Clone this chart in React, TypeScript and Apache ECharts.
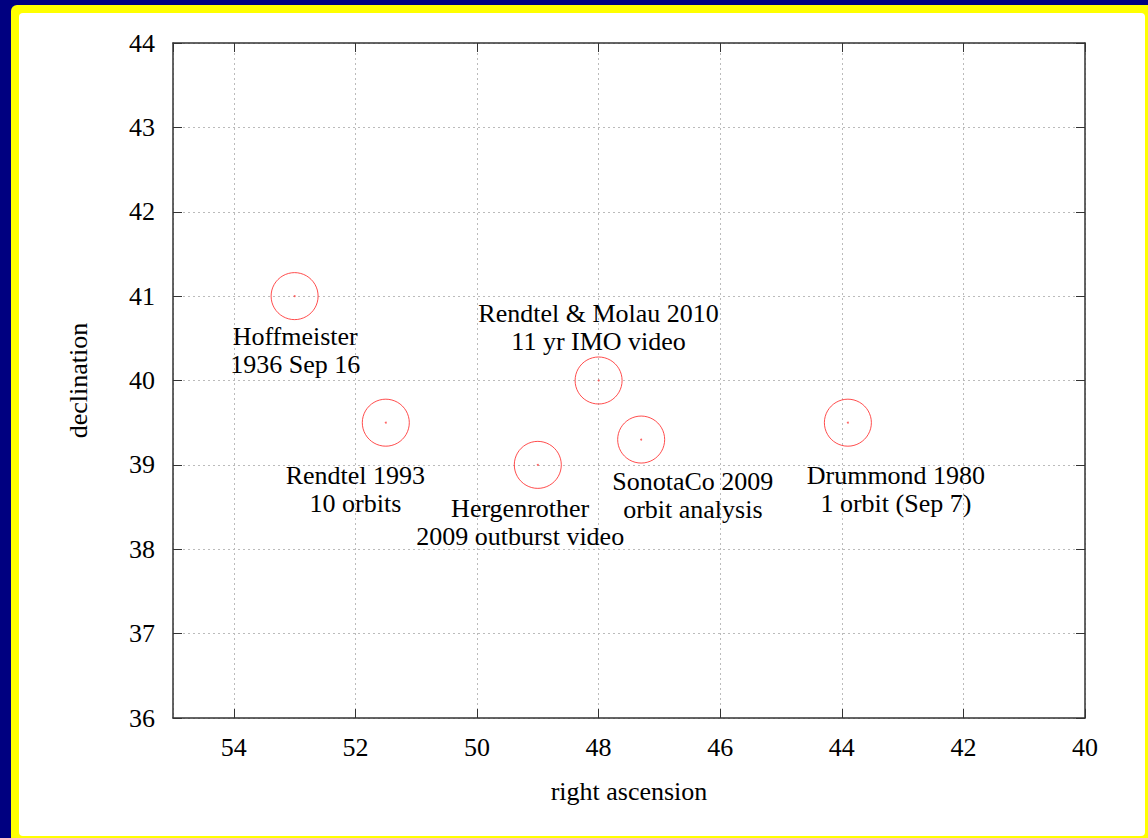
import React, { useEffect, useRef } from "react";
import * as echarts from "echarts";

// Radiant positions (right ascension, declination)
const radiantNames = [
  "Hoffmeister",
  "Rendtel 1993",
  "Hergenrother",
  "Rendtel & Molau 2010",
  "SonotaCo 2009",
  "Drummond 1980",
];
const radiantRA = [53.0, 51.5, 49.0, 48.0, 47.3, 43.9];
const radiantDec = [41.0, 39.5, 39.0, 40.0, 39.3, 39.5];

// Annotation labels (text and their data positions)
const labelTexts = [
  "Hoffmeister\n1936 Sep 16",
  "Rendtel 1993\n10 orbits",
  "Hergenrother\n2009 outburst video",
  "Rendtel & Molau 2010\n11 yr IMO video",
  "SonotaCo 2009\norbit analysis",
  "Drummond 1980\n1 orbit (Sep 7)",
];
const labelRA = [52.99, 52.0, 49.29, 48.0, 46.45, 43.11];
const labelDec = [40.35, 38.71, 38.32, 40.63, 38.64, 38.71];

// Axis ranges
const xRange = [40, 55];
const yRange = [36, 44];
const xTickStep = 2;
const yTickStep = 1;

const FONT = "'Liberation Serif', 'Times New Roman', serif";

export default function App() {
  const ref = useRef<HTMLDivElement>(null);

  useEffect(() => {
    if (!ref.current) return;
    const chart = echarts.init(ref.current, undefined, { renderer: "svg" });

    const axisLine = { show: true, lineStyle: { color: "#333", width: 1.5 } };
    const tick = { show: true, inside: true, length: 9, lineStyle: { color: "#333", width: 1 } };
    const grid = { show: true, lineStyle: { color: "#bbbbbb", width: 1, type: [2, 3] as any } };
    const label = { color: "#000", fontFamily: FONT, fontSize: 26 };

    const xBase = {
      type: "value" as const,
      min: xRange[0],
      max: xRange[1],
      interval: xTickStep,
      inverse: true,
      axisLine,
      axisTick: tick,
    };
    const yBase = {
      type: "value" as const,
      min: yRange[0],
      max: yRange[1],
      interval: yTickStep,
      axisLine,
      axisTick: tick,
    };

    chart.setOption({
      animation: false,
      backgroundColor: "transparent",
      grid: { left: 173, right: 63, top: 43, bottom: 120, containLabel: false },
      xAxis: [
        {
          ...xBase,
          position: "bottom",
          splitLine: grid,
          axisLabel: {
            ...label,
            margin: 16,
            showMaxLabel: false,
            formatter: (v: number) => (v === xRange[1] ? "" : String(v)),
          },
          name: "right ascension",
          nameLocation: "middle",
          nameGap: 60,
          nameTextStyle: { ...label },
        },
        {
          ...xBase,
          position: "top",
          splitLine: { show: false },
          axisLabel: { show: false },
        },
      ],
      yAxis: [
        {
          ...yBase,
          position: "left",
          splitLine: grid,
          axisLabel: { ...label, margin: 18 },
          name: "declination",
          nameLocation: "middle",
          nameGap: 82,
          nameTextStyle: { ...label },
        },
        {
          ...yBase,
          position: "right",
          splitLine: { show: false },
          axisLabel: { show: false },
        },
      ],
      series: [
        {
          type: "scatter",
          symbol: "circle",
          symbolSize: 47,
          itemStyle: { color: "transparent", borderColor: "#ff2020", borderWidth: 1 },
          data: radiantRA.map((x, i) => ({ name: radiantNames[i], value: [x, radiantDec[i]] })),
          z: 3,
        },
        {
          type: "scatter",
          symbol: "circle",
          symbolSize: 2,
          itemStyle: { color: "#ff4040" },
          data: radiantRA.map((x, i) => [x, radiantDec[i]]),
          z: 3,
        },
        {
          type: "scatter",
          symbol: "circle",
          symbolSize: 1,
          itemStyle: { color: "#ffffff", opacity: 1 },
          data: labelRA.map((x, i) => ({ name: labelTexts[i], value: [x, labelDec[i]] })),
          label: {
            show: true,
            position: "inside",
            formatter: (p: any) => p.name,
            color: "#000",
            opacity: 1,
            textBorderWidth: 0,
            textBorderColor: "transparent",
            fontFamily: FONT,
            fontSize: 26,
            lineHeight: 28,
            align: "center",
            verticalAlign: "middle",
          },
          z: 4,
        },
      ],
    });

    return () => chart.dispose();
  }, []);

  return (
    <div
      style={{
        position: "fixed",
        left: 0,
        top: 0,
        width: 1148,
        height: 838,
        background: "#000080",
        overflow: "hidden",
      }}
    >
      <div
        style={{
          position: "absolute",
          left: 11,
          top: 5,
          width: 1160,
          height: 860,
          background: "#ffff00",
          borderRadius: 6,
        }}
      />
      <div
        style={{
          position: "absolute",
          left: 19,
          top: 13,
          width: 1126,
          height: 823,
          background: "#ffffff",
          borderRadius: 4,
        }}
      />
      <div ref={ref} style={{ position: "absolute", left: 0, top: 0, width: 1148, height: 838 }} />
    </div>
  );
}
